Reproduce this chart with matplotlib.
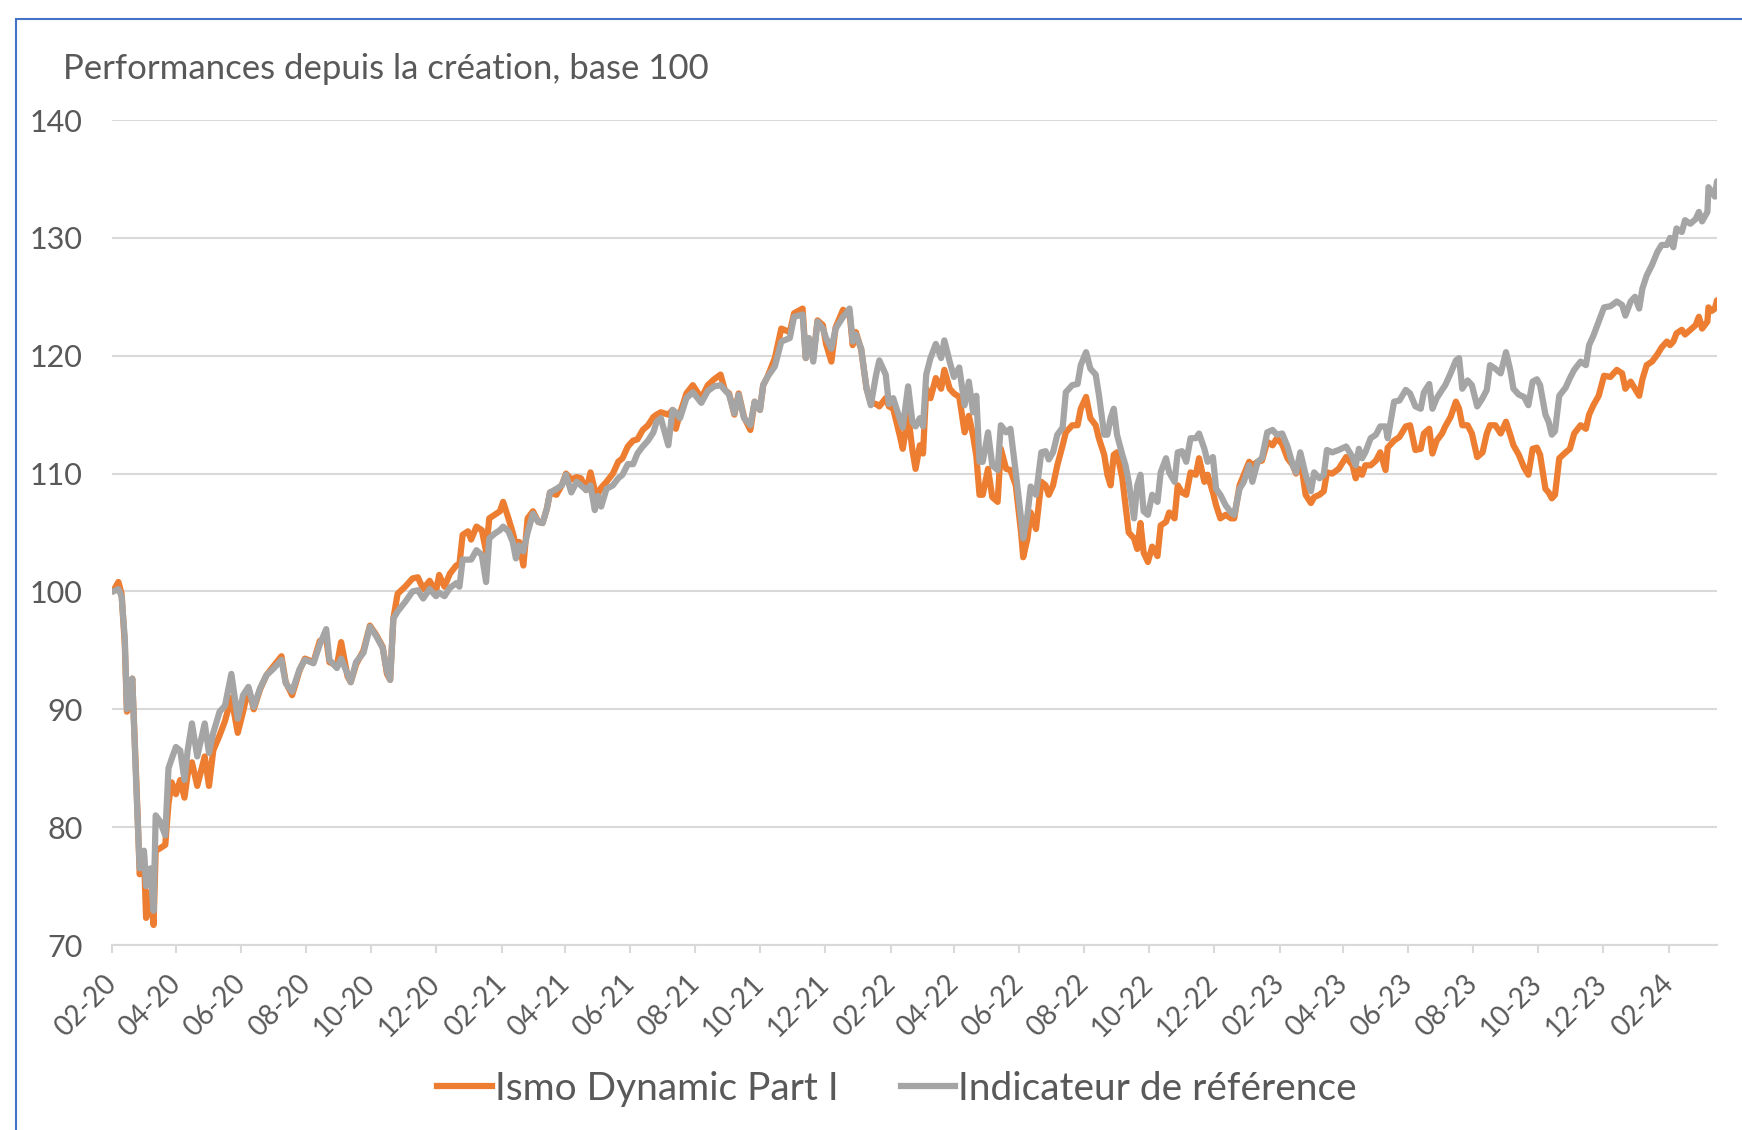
import numpy as np
import pandas as pd
import matplotlib
matplotlib.use('Agg')
import matplotlib.pyplot as plt
from matplotlib.patches import Rectangle
from matplotlib.lines import Line2D

# jours depuis le 01-02-2020
days = [1, 6, 9, 12, 14, 16, 19, 23, 26, 30, 32, 36, 39, 41, 45, 50, 53, 56, 60, 64,
        68, 71, 75, 80, 87, 91, 95, 101, 106, 112, 118, 123, 128, 133, 139, 145, 151, 159, 163, 169,
        176, 181, 189, 195, 201, 204, 211, 215, 221, 224, 229, 236, 242, 248, 254, 258, 261,
        264, 268, 275, 282, 287, 292, 298, 304, 307, 312, 317, 323, 326, 329, 334, 337, 342, 347, 351,
        354, 359, 364, 367, 372, 376, 379, 382, 386, 390, 395, 400, 404, 408, 411, 417, 422, 426, 431,
        436, 440, 445, 449, 453, 456, 459, 464, 470, 475, 479, 484, 489, 493, 498, 503, 508, 511, 515,
        522, 526, 529, 533, 539,
        545, 553, 559, 565, 571, 575, 579, 584, 588, 593, 599, 603, 608, 611, 615, 622, 628, 636, 640,
        648, 651, 654, 658, 662, 667, 670, 675, 679, 686, 689, 692, 695, 698, 703, 708, 712, 717, 720,
        726, 729, 733, 739, 742, 747, 751, 754, 758, 761, 764, 768, 773, 778, 781, 786, 790, 795, 800,
        804, 808, 811, 814,
        817, 822, 826, 831, 834, 839, 843, 848, 853, 855, 859, 862, 867, 872, 876, 879, 883, 887, 892,
        895, 901, 906, 909, 914, 918, 923, 926, 931, 934, 937, 940, 943, 948, 951, 954, 959, 962, 965,
        968, 972, 976, 981, 984, 989, 992, 997, 1000, 1004, 1008, 1012, 1017, 1020, 1025, 1028, 1033,
        1036, 1040, 1045, 1050, 1053, 1058, 1062, 1067, 1070, 1075, 1079, 1084, 1089, 1093,
        1098, 1103, 1108, 1111, 1115, 1120, 1125, 1128, 1133, 1137, 1140, 1145, 1151, 1158, 1164, 1167,
        1170, 1173, 1176, 1181, 1186, 1190, 1195, 1197, 1203, 1208, 1214, 1218, 1223, 1228, 1231, 1236,
        1239, 1243, 1248, 1251, 1256, 1261, 1264, 1267, 1272, 1276, 1281, 1286, 1290, 1293, 1298, 1303,
        1308, 1312, 1315, 1320, 1325, 1329, 1333, 1337, 1340, 1345, 1348, 1351, 1354, 1358, 1364, 1368,
        1372, 1378, 1383, 1386, 1390, 1395, 1400, 1406, 1412, 1417, 1420, 1425, 1429, 1433, 1436, 1440,
        1445, 1450, 1454, 1459, 1462, 1465, 1468, 1473, 1476, 1481, 1486, 1489, 1492, 1497, 1498, 1501,
        1504, 1506]

fund = [100.0, 100.8, 99.8, 95.5, 89.8, 90.3, 92.6, 83.5, 76.0, 77.5, 72.3, 74.5, 71.7, 78.0, 78.2, 78.5, 82.0, 83.8, 82.8, 84.0,
        82.5, 84.5, 85.5, 83.5, 86.0, 83.5, 86.5, 87.8, 89.0, 91.0, 88.0, 89.8, 91.8, 90.0, 91.7, 92.9, 93.6, 94.5, 92.3, 91.2,
        93.3, 94.3, 94.0, 95.8, 96.0, 94.0, 93.7, 95.7, 92.8, 92.3, 93.8, 95.0, 97.1, 96.3, 95.3, 93.0, 92.5,
        97.7, 99.8, 100.4, 101.1, 101.2, 100.2, 100.9, 100.0, 101.4, 100.4, 101.5, 102.2, 102.3, 104.8, 105.1, 104.4, 105.5, 105.2, 103.4,
        106.2, 106.5, 106.8, 107.6, 106.2, 105.0, 103.9, 104.2, 102.2, 106.2, 106.8, 105.9, 105.8, 107.0, 108.4, 108.2, 109.0, 110.0, 109.5,
        109.7, 109.6, 108.6, 110.1, 108.6, 108.3, 108.8, 109.3, 110.0, 111.0, 111.3, 112.3, 112.8, 112.9, 113.7, 114.1, 114.8, 115.0, 115.2,
        115.0, 115.4, 113.8, 115.1, 116.8,
        117.5, 116.4, 117.5, 118.0, 118.4, 117.1, 116.8, 115.0, 116.8, 114.8, 113.7, 116.1, 115.4, 117.5, 118.2, 119.8, 122.3, 122.0, 123.6,
        124.0, 119.8, 121.4, 119.8, 123.0, 122.6, 121.0, 119.5, 122.4, 123.9, 123.5, 123.7, 120.9, 122.0, 120.5, 117.2, 116.0, 115.9, 115.7,
        116.4, 115.7, 115.5, 113.3, 112.1, 115.0, 112.0, 110.4, 112.4, 111.7, 117.2, 116.4, 118.1, 117.2, 118.8, 117.2, 116.8, 116.5, 113.5,
        114.9, 113.2, 111.5, 108.2,
        108.2, 110.4, 108.0, 107.6, 112.1, 110.4, 110.3, 109.0, 105.0, 102.9, 104.5, 106.7, 105.3, 109.3, 109.0, 108.2, 109.0, 110.7, 112.4,
        113.5, 114.1, 114.1, 115.5, 116.5, 114.7, 114.1, 113.0, 111.6, 109.9, 109.0, 111.6, 111.8, 109.6, 107.3, 105.0, 104.5, 103.6, 105.8,
        103.3, 102.5, 103.8, 103.0, 105.6, 105.9, 106.7, 106.2, 109.0, 108.4, 108.2, 110.1, 109.9, 111.3, 109.3, 109.9, 108.4,
        107.3, 106.2, 106.5, 106.2, 106.2, 109.0, 109.9, 111.0, 110.7, 111.0, 111.1, 112.7, 112.4, 113.0,
        112.5, 111.3, 110.7, 110.0, 111.3, 108.2, 107.5, 108.0, 108.2, 108.5, 110.1, 110.0, 110.4, 111.4, 110.7, 109.6,
        110.4, 109.9, 110.7, 110.7, 111.1, 111.8, 110.3, 112.2, 112.8, 113.1, 114.0, 114.1, 112.0, 112.1, 113.4, 113.8,
        111.7, 112.8, 113.4, 114.0, 114.8, 116.1, 115.5, 114.1, 114.1, 113.4, 111.4, 111.8, 113.4, 114.1, 114.1, 113.4,
        114.4, 113.3, 112.4, 111.6, 110.5, 109.9, 112.1, 112.2, 111.6, 108.7, 108.4, 107.9, 108.2, 111.3, 111.8, 112.1,
        113.4, 114.1, 113.8, 115.0, 115.8, 116.6, 118.3, 118.2, 118.8, 118.5, 117.2, 117.8, 117.2, 116.6, 118.0, 119.2,
        119.5, 120.1, 120.7, 121.2, 120.9, 121.2, 121.9, 122.2, 121.8, 122.2, 122.6, 123.3, 122.3, 122.9, 124.1, 123.8,
        124.0, 124.7]

bench = [100.0, 100.2, 99.6, 96.0, 90.0, 90.5, 92.6, 83.0, 76.5, 78.0, 75.0, 76.5, 72.9, 81.0, 80.5, 79.3, 85.0, 85.8, 86.8, 86.5,
         84.0, 86.5, 88.8, 86.0, 88.8, 86.3, 88.0, 89.8, 90.3, 93.0, 89.2, 91.2, 91.9, 90.2, 91.8, 92.9, 93.4, 94.2, 92.2, 91.5,
         93.4, 94.2, 93.9, 95.5, 96.8, 94.2, 93.5, 94.3, 93.0, 92.3, 94.0, 94.8, 97.0, 96.2, 95.2, 93.2, 92.5,
         97.7, 98.3, 99.1, 100.0, 100.1, 99.4, 100.2, 99.6, 99.9, 99.6, 100.3, 100.7, 100.4, 102.7, 102.7, 102.7, 103.5, 103.1, 100.8,
         104.5, 104.9, 105.2, 105.5, 105.1, 104.2, 102.8, 103.9, 103.4, 105.0, 106.6, 105.9, 105.8, 107.0, 108.4, 108.7, 109.0, 109.9, 108.4,
         109.3, 109.0, 108.6, 109.0, 106.9, 108.1, 107.2, 108.7, 109.0, 109.6, 109.9, 110.8, 110.8, 111.7, 112.3, 112.8, 113.5, 114.4, 114.7,
         112.4, 115.4, 115.2, 114.7, 116.4,
         116.9, 116.0, 117.0, 117.4, 117.5, 117.1, 116.7, 115.1, 116.7, 114.7, 114.1, 116.1, 115.4, 117.5, 118.2, 119.1, 121.2, 121.5, 123.3,
         123.5, 119.8, 121.5, 119.5, 122.9, 122.3, 121.5, 120.6, 122.3, 123.3, 123.6, 124.0, 121.2, 121.8, 120.6, 117.2, 115.8, 118.4, 119.6,
         118.4, 115.9, 116.4, 114.7, 113.9, 117.4, 114.4, 114.0, 114.7, 114.0, 118.4, 119.8, 121.0, 119.8, 121.3, 119.5, 118.2, 119.0, 115.8,
         117.8, 115.2, 116.6, 111.0,
         111.0, 113.5, 110.7, 110.3, 114.1, 113.5, 113.8, 110.1, 106.2, 104.5, 106.5, 108.9, 108.2, 111.8, 111.9, 111.2, 111.8, 113.3, 113.9,
         116.9, 117.5, 117.6, 119.2, 120.3, 118.9, 118.4, 116.7, 113.3, 113.3, 114.7, 115.5, 113.3, 111.6, 110.7, 109.3, 106.2, 109.0, 109.9,
         106.8, 106.5, 108.2, 107.6, 110.1, 111.3, 110.1, 109.3, 111.8, 111.9, 111.0, 113.0, 113.0, 113.4, 112.1, 111.0, 111.4,
         108.7, 108.2, 107.3, 106.7, 106.5, 108.7, 109.3, 110.7, 109.3, 111.0, 111.3, 113.5, 113.7, 113.3,
         113.4, 112.3, 110.7, 110.1, 111.8, 109.9, 108.5, 110.1, 109.6, 109.9, 112.0, 111.8, 112.0, 112.3, 111.4, 110.7,
         112.1, 111.3, 111.8, 113.0, 113.3, 114.0, 114.0, 113.0, 116.1, 116.2, 117.1, 116.8, 115.7, 115.5, 116.9, 117.6,
         115.5, 116.4, 117.1, 117.5, 118.5, 119.6, 119.8, 117.2, 117.9, 117.5, 115.7, 116.4, 117.1, 119.2, 118.9, 118.5,
         120.3, 118.8, 117.2, 116.7, 116.5, 115.8, 117.8, 118.0, 117.5, 115.0, 114.4, 113.3, 113.6, 116.6, 117.3, 118.1,
         118.8, 119.5, 119.2, 120.9, 121.7, 122.9, 124.1, 124.2, 124.6, 124.3, 123.4, 124.6, 125.0, 124.0, 125.7, 126.8,
         127.7, 128.8, 129.4, 129.4, 130.0, 129.2, 130.8, 130.5, 131.5, 131.2, 131.6, 132.2, 131.4, 132.2, 134.3, 133.9,
         133.5, 134.8]

series_names = ['Ismo Dynamic Part I', 'Indicateur de référence']
title = 'Performances depuis la création, base 100'
yticks = [70, 80, 90, 100, 110, 120, 130, 140]

start = pd.Timestamp('2020-02-01')
dates = start + pd.to_timedelta(days, unit='D')
xticks = pd.date_range('2020-02-01', '2024-02-01', freq='2MS')
xlabels = [d.strftime('%m-%y') for d in xticks]

plt.rcParams['font.family'] = ['Lato', 'DejaVu Sans']
txt = '#595959'
grid = '#D9D9D9'
orange = '#ED7D31'
gray = '#A5A5A5'

W, H = 1742, 1130
fig = plt.figure(figsize=(W / 100, H / 100), dpi=100)
ax = fig.add_axes([112 / W, 1 - 945 / H, (1717 - 112) / W, (945 - 120) / H])

ax.plot(dates, fund, color=orange, lw=4.5, solid_joinstyle='round', solid_capstyle='round', zorder=3)
ax.plot(dates, bench, color=gray, lw=4.5, solid_joinstyle='round', solid_capstyle='round', zorder=4)

ax.set_ylim(70, 140)
ax.set_yticks(yticks)
ax.set_xlim(start, start + pd.Timedelta(days=1506))
ax.set_xticks(xticks)
ax.set_xticklabels(xlabels, rotation=45, ha='right', va='center', rotation_mode='anchor')

ax.grid(axis='y', color=grid, lw=1.5)
ax.set_axisbelow(True)
for s in ['top', 'right', 'left']:
    ax.spines[s].set_visible(False)
ax.spines['bottom'].set_color(grid)
ax.spines['bottom'].set_linewidth(1.5)
ax.tick_params(axis='y', length=0, pad=21, labelsize=22, labelcolor=txt)
ax.tick_params(axis='x', length=6, width=1.5, color=grid, pad=19, labelsize=20, labelcolor=txt)

fig.text(63 / W, 1 - 69 / H, title, fontsize=25, color=txt, va='center', ha='left')

handles = [Line2D([], [], color=orange, lw=4.5), Line2D([], [], color=gray, lw=4.5)]
leg = fig.legend(handles, series_names, loc='center', bbox_to_anchor=(897 / W, 1 - 1089 / H),
                 ncol=2, frameon=False, fontsize=28, handlelength=1.4, handletextpad=0.08,
                 columnspacing=1.6)
for t in leg.get_texts():
    t.set_color(txt)

fig.add_artist(Rectangle((16 / W, -0.05), 1.2, 1.05 - 19 / H, transform=fig.transFigure,
                         fill=False, edgecolor='#4472C4', lw=1.5))

fig.savefig('out.png', dpi=100)
